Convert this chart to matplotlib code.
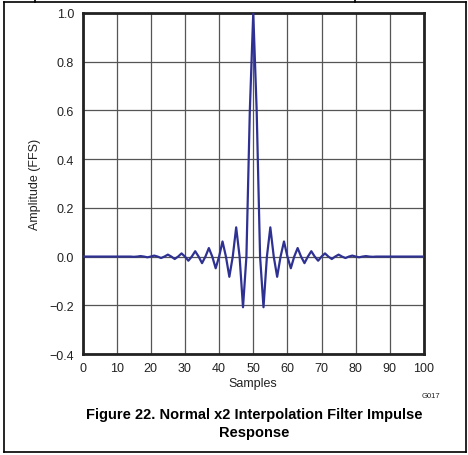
import numpy as np
import matplotlib
matplotlib.use("Agg")
import matplotlib.pyplot as plt
from matplotlib.lines import Line2D

# impulse response, one value per sample 0..100
samples = np.arange(0, 101)
amplitude = [
    0, 0, 0, 0, 0, 0, 0, 0, 0, 0,
    0, 0, 0, 0, 0, -0.001, 0, 0.002, 0, -0.003,
    0, 0.004, 0, -0.006, 0, 0.008, 0, -0.010, 0, 0.013,
    0, -0.017, 0, 0.022, 0, -0.027, 0, 0.035, 0, -0.048,
    0, 0.062, 0, -0.083, 0, 0.120, 0, -0.208, 0, 0.600,
    1.0,
    0.600, 0, -0.208, 0, 0.120, 0, -0.083, 0, 0.062, 0,
    -0.048, 0, 0.035, 0, -0.027, 0, 0.022, 0, -0.017, 0,
    0.013, 0, -0.010, 0, 0.008, 0, -0.006, 0, 0.004, 0,
    -0.003, 0, 0.002, 0, -0.001, 0, 0, 0, 0, 0,
    0, 0, 0, 0, 0, 0, 0, 0, 0, 0,
]
x_ticks = list(range(0, 101, 10))
y_ticks = [-0.4, -0.2, 0.0, 0.2, 0.4, 0.6, 0.8, 1.0]

plt.rcParams['font.family'] = ['Liberation Sans', 'DejaVu Sans']

fig = plt.figure(figsize=(4.68, 4.56), dpi=100)
ax = fig.add_axes([82.5 / 468, 1 - 355 / 456, (424 - 82.5) / 468, (355 - 14) / 456])

ax.plot(samples, amplitude, color='#2e3192', lw=1.6, zorder=3)

ax.set_xlim(0, 100)
ax.set_ylim(-0.4, 1.0)
ax.set_xticks(x_ticks)
ax.set_yticks(y_ticks)
ax.set_yticklabels([f"{v:.1f}".replace('-', '\u2212') for v in y_ticks])
ax.grid(True, color='#555555', lw=0.9)
ax.set_axisbelow(True)
ax.tick_params(length=0, labelsize=9, colors='#222222', pad=6)
for s in ax.spines.values():
    s.set_linewidth(2)
    s.set_color('#222222')

ax.set_xlabel('Samples', fontsize=9, color='#222222', labelpad=2)
ax.set_ylabel('Amplitude (FFS)', fontsize=9, color='#222222', labelpad=6)

fig.text(440 / 468, 1 - 397 / 456, 'G017', fontsize=5.5, ha='right', va='center', color='#222222')
fig.text(254 / 468, 1 - 424 / 456, 'Figure 22. Normal x2 Interpolation Filter Impulse\nResponse',
         fontsize=10.5, fontweight='bold', ha='center', va='center', linespacing=1.3)

# page frame around the figure
frame = dict(color='black', lw=1.2, transform=fig.transFigure)
fig.add_artist(Line2D([3.5 / 468, 466 / 468], [1 - 2.5 / 456, 1 - 2.5 / 456], **frame))
fig.add_artist(Line2D([3.5 / 468, 3.5 / 468], [1 - 2.5 / 456, 1 - 453 / 456], **frame))
fig.add_artist(Line2D([466 / 468, 466 / 468], [1 - 2.5 / 456, 1 - 453 / 456], **frame))
fig.add_artist(Line2D([3.5 / 468, 466 / 468], [1 - 452.5 / 456, 1 - 452.5 / 456], **frame))
fig.add_artist(Line2D([35 / 468, 35 / 468], [1, 1 - 2.5 / 456], **frame))
fig.add_artist(Line2D([355 / 468, 355 / 468], [1, 1 - 2.5 / 456], **frame))

fig.savefig('out.png', dpi=100)
